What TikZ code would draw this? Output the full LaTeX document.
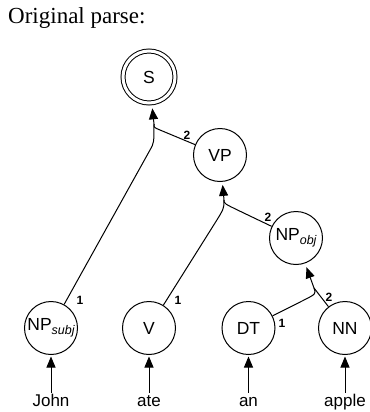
\documentclass[tikz,border=0pt]{standalone}
\usepackage{fontspec}
\setmainfont{Liberation Serif}
\setsansfont{Liberation Sans}
\usetikzlibrary{arrows.meta}
\begin{document}
\begin{tikzpicture}[x=1bp,y=-1bp,
  nd/.style={circle,draw,line width=1bp,minimum size=53bp,inner sep=0pt,font=\sffamily\fontsize{17.5bp}{17.5bp}\selectfont},
  edge/.style={line width=1bp},
  arr/.style={line width=1bp,-{Triangle[length=11bp,width=9bp]}},
  lbl/.style={inner sep=0pt,font=\sffamily\bfseries\fontsize{12bp}{12bp}\selectfont},
  wd/.style={inner sep=1bp,text height=12bp,text depth=4bp,font=\sffamily\fontsize{17bp}{17bp}\selectfont}]
\useasboundingbox (0,0) rectangle (370,412);
\node[anchor=base west,inner sep=0pt,font=\fontsize{23bp}{23bp}\selectfont] (title) at (8,23) {Original parse:};
% nodes
\node[nd,minimum size=52bp,double,double distance=3bp] (S) at (149,77) {S};
\node[nd] (VP) at (220,155) {VP};
\node[nd] (NPobj) at (296,238) {NP\raisebox{-4bp}{\fontsize{12.5bp}{12.5bp}\selectfont\itshape obj}};
\node[nd] (NPsubj) at (51,328) {NP\raisebox{-4bp}{\fontsize{12.5bp}{12.5bp}\selectfont\itshape subj}};
\node[nd] (V) at (149,328) {V};
\node[nd] (DT) at (248.5,328) {DT};
\node[nd] (NN) at (345,328) {NN};
% words
\node[wd,anchor=base] (w1) at (51,406) {John};
\node[wd,anchor=base] (w2) at (149,406) {ate};
\node[wd,anchor=base] (w3) at (248.5,406) {an};
\node[wd,anchor=base] (w4) at (345,406) {apple};
\foreach \w/\n in {w1/NPsubj,w2/V,w3/DT,w4/NN}
  \draw[arr,shorten >=1.5bp] (\w) -- (\n);
% junction coordinates
\coordinate (b1) at (150,150);
\coordinate (c1) at (154,142.8);
\coordinate (b2) at (160,130);
\coordinate (c2) at (154,127.5);
\coordinate (j1) at (154,124);
\coordinate (b3) at (215,223);
\coordinate (c3) at (224,208.6);
\coordinate (b4) at (240,211.2);
\coordinate (c4) at (224,203.5);
\coordinate (j2) at (224,200);
\coordinate (b5) at (303.9,300.1);
\coordinate (c5) at (316.1,293.9);
\coordinate (j3) at (314,288);
% edges
\draw[edge] (NPsubj) -- (b1) .. controls (c1) .. (j1);
\draw[edge] (VP) -- (b2) .. controls (c2) .. (j1);
\draw[arr,shorten >=5bp] (j1) -- (S);
\draw[edge] (V) -- (b3) .. controls (c3) .. (j2);
\draw[edge] (NPobj) -- (b4) .. controls (c4) .. (j2);
\draw[arr,shorten >=3bp] (j2) -- (VP);
\draw[edge] (DT) -- (b5) .. controls (c5) .. (j3);
\draw[edge] (NN) -- (j3);
\draw[arr,shorten >=4bp] (j3) -- (NPobj);
% labels
\node[lbl] (l1) at (80,300) {1};
\node[lbl] (l2) at (178,300) {1};
\node[lbl] (l3) at (282,323) {1};
\node[lbl] (l4) at (329,297) {2};
\node[lbl] (l5) at (187,135) {2};
\node[lbl] (l6) at (268,217) {2};
\end{tikzpicture}
\end{document}
